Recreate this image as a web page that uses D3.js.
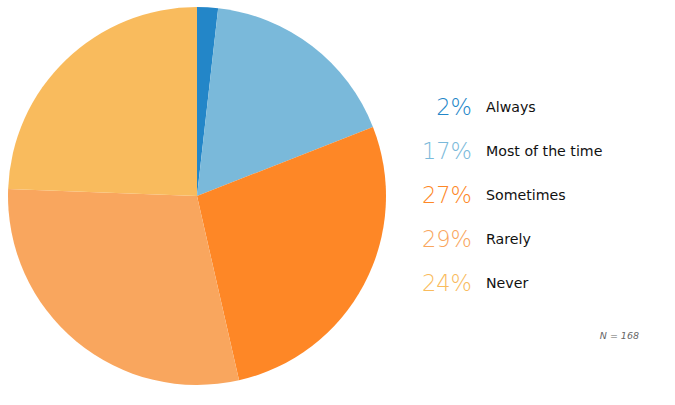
<!DOCTYPE html>
<html>
<head>
<meta charset="utf-8">
<title>Pie</title>
<script src="https://cdn.jsdelivr.net/npm/d3@7"></script>
<style>
  body { margin: 0; background: #fff; }
  text { font-family: "DejaVu Sans", Verdana, sans-serif; }
</style>
</head>
<body>
<script>
// survey answers, counts out of N = 168
let categories = ['Always', 'Most of the time', 'Sometimes', 'Rarely', 'Never']
let counts = [3, 29, 46, 49, 41]
let colors = ['#2386c8', '#7ab9da', '#fe8726', '#f9a65e', '#f9bb5d']
let total = 168

let width = 675,
    height = 405,
    cx = 197,
    cy = 196,
    radius = 189

let svg = d3.select('body').append('svg')
    .attr('width', width)
    .attr('height', height)

let data = categories.map((c, i) => ({ name: c, value: counts[i], color: colors[i] }))

let pie = d3.pie().sort(null).value(d => d.value)
let arc = d3.arc().innerRadius(0).outerRadius(radius)

svg.append('g')
    .attr('transform', 'translate(' + cx + ',' + cy + ')')
  .selectAll('path')
  .data(pie(data))
  .enter().append('path')
    .attr('d', arc)
    .attr('fill', d => d.data.color)

// legend
let y = d3.scalePoint().domain(categories).range([106.5, 282.5])

let legend = svg.append('g')
  .selectAll('g')
  .data(data)
  .enter().append('g')
    .attr('transform', d => 'translate(0,' + y(d.name) + ')')

legend.append('text')
    .attr('x', 472)
    .attr('dy', '0.36em')
    .attr('text-anchor', 'end')
    .style('font-size', '22.5px')
    .style('font-weight', 300)
    .attr('fill', d => d.color)
    .text(d => d3.format('.0%')(d.value / total))

legend.append('text')
    .attr('x', 486)
    .attr('dy', '0.36em')
    .style('font-size', '14.2px')
    .attr('fill', '#111')
    .text(d => d.name)

svg.append('text')
    .attr('x', 639)
    .attr('y', 339)
    .attr('text-anchor', 'end')
    .style('font-size', '9.5px')
    .style('font-style', 'italic')
    .attr('fill', '#666')
    .text('N = ' + total)
</script>
</body>
</html>
